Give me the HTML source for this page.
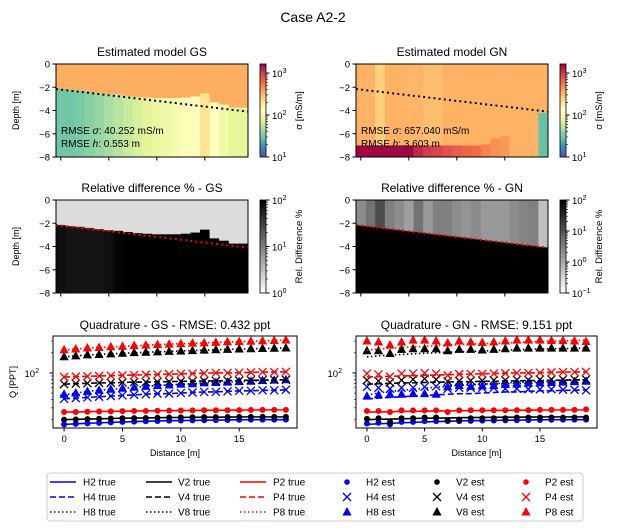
<!DOCTYPE html>
<html><head><meta charset="utf-8"><style>
body{margin:0;background:#fff}
svg{display:block;font-family:"Liberation Sans","DejaVu Sans",sans-serif}
</style></head><body>
<svg id="fig" width="627" height="532" viewBox="0 0 627 532" xmlns="http://www.w3.org/2000/svg">
<defs>
<linearGradient id="spec" x1="0" y1="1" x2="0" y2="0">
<stop offset="0" stop-color="#5e4fa2"/><stop offset="0.1" stop-color="#3288bd"/><stop offset="0.2" stop-color="#66c2a5"/><stop offset="0.3" stop-color="#abdda4"/><stop offset="0.4" stop-color="#e6f598"/><stop offset="0.5" stop-color="#ffffbf"/><stop offset="0.6" stop-color="#fee08b"/><stop offset="0.7" stop-color="#fdae61"/><stop offset="0.8" stop-color="#f46d43"/><stop offset="0.9" stop-color="#d53e4f"/><stop offset="1" stop-color="#9e0142"/>
</linearGradient>
<linearGradient id="grayg" x1="0" y1="1" x2="0" y2="0"><stop offset="0" stop-color="#fff"/><stop offset="1" stop-color="#000"/></linearGradient>
</defs>
<text x="313" y="22" font-size="14" text-anchor="middle">Case A2-2</text>
</svg>
<script>
// ---- data ----
const positions = [0,1,2,3,4,5,6,7,8,9,10,11,12,13,14,15,16,17,18,19];
const trueDepthStart = 2.15, trueDepthEnd = 4.1;
const gsLayerDepth = [2.15,2.25,2.3,2.4,2.5,2.6,2.65,2.75,2.85,2.9,2.95,2.95,2.95,2.9,2.8,2.55,3.3,3.5,3.75,3.75];
const gsTopSigma = [355,355,355,355,355,355,355,355,355,355,355,355,355,355,355,355,355,355,355,355];
const gsBotSigma = [30,30,32,36,40,46,52,60,68,76,85,95,105,120,135,200,130,95,80,78];
const gnLayerDepth = [7,7,7,7,7,7,7,7,7,7,7,7,7,6.9,6.4,6.2,8,8,8,4.2];
const gnTopSigma = [340,340,250,340,340,330,330,300,300,340,340,340,340,340,340,340,340,340,340,340];
const gnBotSigma = [1600,1600,1600,1600,1600,1600,1200,1000,900,800,700,650,600,500,450,420,400,400,400,28];
const gsDiffDark = [0.15,0.2,0.2,0.2,0.2,0.15,0.05,0,0,0,0,0,0,0,0,0,0,0,0,0];
const gnDiffGray = [0.55,0.45,0.3,0.5,0.55,0.62,0.45,0.6,0.5,0.5,0.55,0.58,0.55,0.6,0.6,0.6,0.55,0.52,0.5,0.75];
const trueP8 = [220,228,235,240,245,250,256,260,265,270,274,278,282,286,290,294,298,302,306,310];
const trueV8 = [174,180,185,189,193,197,200,204,207,210,213,216,219,222,225,228,230,232,234,236];
const trueP4 = [87,88,89,90,91,92,93,94,95,96,97,98,99,100,100,101,102,103,103,104];
const trueV4 = [68,69,70,71,71,72,73,73,74,74,75,75,76,76,77,77,78,78,79,79];
const trueH8 = [47,50,53,55,57,59,61,63,65,66,68,69,71,72,73,74,75,77,78,79];
const trueH4 = [41,42,43,44,45,46,47,48,49,49,50,51,52,52,53,54,54,55,55,56];
const trueP2 = [26,26,26.3,26.5,26.6,26.8,27,27,27.2,27.3,27.4,27.5,27.6,27.7,27.7,27.8,27.9,28,28,28];
const trueV2 = [20,20.2,20.4,20.6,20.8,21,21.1,21.2,21.4,21.5,21.6,21.7,21.8,21.8,21.9,22,22,22,22,22];
const trueH2 = [17,17.3,17.6,17.9,18.2,18.5,18.7,18.9,19.1,19.3,19.4,19.5,19.6,19.7,19.8,19.9,20,20,20,20];
const gsEstP8 = [222,228,236,240,246,250,256,261,265,270,274,279,282,286,291,294,298,302,306,311];
const gsEstV8 = [175,180,186,189,193,197,201,204,207,210,213,216,219,222,225,228,230,232,234,236];
const gsEstP4 = [87,88,89,90,91,92,93,94,95,96,97,98,99,100,100,101,102,103,103,104];
const gsEstV4 = [68,69,70,71,71,72,73,73,74,74,75,75,76,76,77,77,78,78,79,79];
const gsEstH8 = [48,50,53,55,57,59,61,63,65,66,68,69,71,72,73,74,75,77,78,79];
const gsEstH4 = [41,42,43,44,45,46,47,48,49,49,50,51,52,52,53,54,54,55,55,56];
const gsEstP2 = [26,26,26.3,26.5,26.6,26.8,27,27,27.2,27.3,27.4,27.5,27.6,27.7,27.7,27.8,27.9,28,28,28];
const gsEstV2 = [20,20.2,20.4,20.6,20.8,21,21.1,21.2,21.4,21.5,21.6,21.7,21.8,21.8,21.9,22,22,22,22,22];
const gsEstH2 = [17,17.3,17.6,17.9,18.2,18.5,18.7,18.9,19.1,19.3,19.4,19.5,19.6,19.7,19.8,19.9,20,20,20,20];
const gnEstP8 = [300,290,262,290,310,310,300,282,300,290,285,290,300,310,310,310,305,305,300,295];
const gnEstV8 = [215,215,195,225,230,230,230,215,225,225,220,225,230,235,235,235,235,235,235,235];
const gnEstP4 = [98,95,88,98,98,100,98,92,96,97,97,98,99,100,100,101,102,103,103,104];
const gnEstV4 = [78,76,72,78,80,82,80,75,76,77,77,78,78,79,79,80,80,80,80,80];
const gnEstH8 = [45,47,48,48,49,49,48,62,65,63,64,65,67,68,70,71,72,73,74,75];
const gnEstH4 = [62,60,58,60,60,62,63,58,60,60,60,60,58,58,57,57,57,56,56,55];
const gnEstP2 = [27,27,26,27.5,27.5,27.5,27.5,26,27.5,27.6,27.6,27.6,27.7,27.8,27.8,28,28,28,28,28.5];
const gnEstV2 = [20.5,21,18.5,21,21,21.5,21.5,19.5,20,21,21,21,21,21.5,21.5,21.5,21.5,21.5,21.5,21.5];
const gnEstH2 = [17.5,18,17,18.5,18.5,19,19,19,19,19.2,19.3,19.4,19.5,19.6,19.7,19.8,19.9,20,20,20];
const depthTicks = [0,-2,-4,-6,-8];
const distTicks = [0,5,10,15];

// ---- helpers ----
const svg = document.getElementById('fig');
const NS = 'http://www.w3.org/2000/svg';
function mk(tag, attrs, parent){const e=document.createElementNS(NS,tag);for(const k in attrs)e.setAttribute(k,attrs[k]);(parent||svg).appendChild(e);return e;}
const specStops=['#5e4fa2','#3288bd','#66c2a5','#abdda4','#e6f598','#ffffbf','#fee08b','#fdae61','#f46d43','#d53e4f','#9e0142'];
function hex(c){return [parseInt(c.substr(1,2),16),parseInt(c.substr(3,2),16),parseInt(c.substr(5,2),16)];}
function spectral(v){let t=(Math.log10(v)-1)/(Math.log10(1640)-1);t=Math.max(0,Math.min(1,t));const s=t*10,i=Math.min(9,Math.floor(s)),f=s-i;const a=hex(specStops[i]),b=hex(specStops[i+1]);return 'rgb('+a.map((x,k)=>Math.round(x+(b[k]-x)*f)).join(',')+')';}
function label(x,y,txt,opts,name){const t=mk('text',Object.assign({x:x,y:y,'font-size':9.5,'text-anchor':'middle'},opts||{}));t.textContent=txt;return t;}
function sup(x,y,base,exp,name,anchor){const t=mk('text',{x:x,y:y,'font-size':9.5,'text-anchor':anchor||'start'});t.appendChild(document.createTextNode(base));const s=mk('tspan',{dy:-4,'font-size':7},t);s.textContent=exp;return t;}

function modelPanel(L,T,W,H,depth,topS,botS,title,rmse1,rmse2,pre){
  const g=mk('g',{});
  const sx=v=>L+(v+0.5)/20*W, sy=d=>T+(-d)/8*H;
  label(L+W/2,T-8,title,{'font-size':12},pre+'-title');
  positions.forEach((p,i)=>{
    const r1=mk('rect',{x:sx(p-0.5),y:T,width:W/20+0.3,height:sy(-depth[i])-T,fill:spectral(topS[i])},g);
    
    if(depth[i]<8){const r2=mk('rect',{x:sx(p-0.5),y:sy(-depth[i]),width:W/20+0.3,height:T+H-sy(-depth[i]),fill:spectral(botS[i])},g);
    }
  });
  const tl=mk('line',{x1:sx(-0.5),y1:sy(-trueDepthStart),x2:sx(19.5),y2:sy(-trueDepthEnd),stroke:'#000','stroke-width':2,'stroke-dasharray':'2 3.2'},g);
  
  const t1=mk('text',{x:L+5,y:T+H-23,'font-size':10},g);
  t1.innerHTML='RMSE <tspan font-style="italic">σ</tspan>: '+rmse1;
  const t2=mk('text',{x:L+5,y:T+H-10,'font-size':10},g);
  t2.innerHTML='RMSE <tspan font-style="italic">h</tspan>: '+rmse2;
  depthAxes(L,T,W,H,pre);
}
function depthAxes(L,T,W,H,pre){
  const sx=v=>L+(v+0.5)/20*W, sy=d=>T+(-d)/8*H;
  const fr=mk('rect',{x:L,y:T,width:W,height:H,fill:'none',stroke:'#000','stroke-width':1});
  depthTicks.forEach(d=>{mk('line',{x1:L-3.5,y1:sy(d),x2:L,y2:sy(d),stroke:'#000'});label(L-6,sy(d)+3.5,d===0?'0':'−'+(-d),{'text-anchor':'end'},'depth-tick-label');});
  distTicks.forEach(v=>mk('line',{x1:sx(v),y1:T+H,x2:sx(v),y2:T+H+3.5,stroke:'#000'}));
  if(L<100)label(19,T+H/2,'Depth [m]',{'font-size':9,transform:'rotate(-90 19 '+(T+H/2)+')'},'depth-axis-title');
}
function colorbar(x,T,H,fill,decMin,decMax,titleTxt,pre){
  const r=mk('rect',{x:x,y:T,width:6,height:H,fill:fill,stroke:'#000','stroke-width':0.8});
  const top=(fill==='url(#spec)')?Math.log10(1640):decMax;
  const cy=l=>T+H-(l-decMin)/(top-decMin)*H;
  for(let d=decMin;d<=decMax;d++){mk('line',{x1:x+6,y1:cy(d),x2:x+9.5,y2:cy(d),stroke:'#000'});sup(x+12,cy(d)+4,'10',d<0?'−'+(-d):String(d),'colorbar-tick-label');
    for(let m=2;m<10;m++){const l=d+Math.log10(m);if(l<=top)mk('line',{x1:x+6,y1:cy(l),x2:x+8,y2:cy(l),stroke:'#000','stroke-width':0.6});}}
  const tx=x+42;label(tx,T+H/2,titleTxt,{'font-size':9.5,transform:'rotate(-90 '+tx+' '+(T+H/2)+')'},pre+'-colorbar-title');
}
modelPanel(56,64,192,93,gsLayerDepth,gsTopSigma,gsBotSigma,'Estimated model GS','40.252 mS/m','0.553 m','model-gs');
colorbar(260,64,93,'url(#spec)',1,3,'σ [mS/m]','model-gs');
modelPanel(356,64,192,93,gnLayerDepth,gnTopSigma,gnBotSigma,'Estimated model GN','657.040 mS/m','3.603 m','model-gn');
colorbar(560,64,93,'url(#spec)',1,3,'σ [mS/m]','model-gn');

// relative difference panels
function diffPanel(L,T,W,H,pre,title,gs){
  const sx=v=>L+(v+0.5)/20*W, sy=d=>T+(-d)/8*H;
  label(L+W/2,T-8,title,{'font-size':12},pre+'-title');
  positions.forEach((p,i)=>{
    const g=gs?'#dcdcdc':'rgb('+Array(3).fill(Math.round(255*gnDiffGray[i])).join(',')+')';
    const d=gs?gsLayerDepth[i]:8;
    const r=mk('rect',{x:sx(p-0.5),y:T,width:W/20+0.3,height:sy(-d)-T,fill:g});
    if(gs){const c=Math.round(255*gsDiffDark[i]);const r2=mk('rect',{x:sx(p-0.5),y:sy(-d),width:W/20+0.3,height:T+H-sy(-d),fill:'rgb('+c+','+c+','+c+')'});}
  });
  const poly=mk('polygon',{points:[sx(-0.5)+','+sy(-trueDepthStart),sx(19.5)+','+sy(-trueDepthEnd),sx(19.5)+','+(T+H),sx(-0.5)+','+(T+H)].join(' '),fill:gs?'rgba(0,0,0,0.6)':'#000'});
  
  const tl=mk('line',{x1:sx(-0.5),y1:sy(-trueDepthStart),x2:sx(19.5),y2:sy(-trueDepthEnd),stroke:'#f00','stroke-width':2,'stroke-dasharray':'2 3.2'});
  
  depthAxes(L,T,W,H,pre);
}
diffPanel(56,200,192,93,'diff-gs','Relative difference % - GS',true);
colorbar(260,200,93,'url(#grayg)',0,2,'Rel. Difference %','diff-gs');
diffPanel(356,200,192,93,'diff-gn','Relative difference % - GN',false);
colorbar(560,200,93,'url(#grayg)',-1,2,'Rel. Difference %','diff-gn');

// quadrature panels
function quadPanel(L,W,title,pre,est){
  const T=336,H=92;
  const sx=v=>L+(v+0.95)/20.9*W;
  const yTop=Math.log10(357),yBot=Math.log10(15);
  const sy=v=>T+(yTop-Math.log10(v))/(yTop-yBot)*H;
  label(L+W/2,T-7,title,{'font-size':12},pre+'-title');
  const clip=mk('clipPath',{id:pre+'clip'});mk('rect',{x:L,y:T,width:W,height:H},clip);
  const g=mk('g',{'clip-path':'url(#'+pre+'clip)'});
  const series=[
    ['H2','#0000ff','',trueH2,est.H2,'o'],['H4','#0000ff','6 3',trueH4,est.H4,'x'],['H8','#0000ff','1.5 2.5',trueH8,est.H8,'^'],
    ['V2','#000','',trueV2,est.V2,'o'],['V4','#000','6 3',trueV4,est.V4,'x'],['V8','#000','1.5 2.5',trueV8,est.V8,'^'],
    ['P2','#ff0000','',trueP2,est.P2,'o'],['P4','#ff0000','6 3',trueP4,est.P4,'x'],['P8','#ff0000','1.5 2.5',trueP8,est.P8,'^']];
  series.forEach(s=>{
    const pl=mk('polyline',{points:positions.map((p,i)=>sx(p)+','+sy(s[3][i])).join(' '),fill:'none',stroke:s[1],'stroke-width':1.6,'stroke-dasharray':s[2]},g);
    
    positions.forEach((p,i)=>{const x=sx(p),y=sy(s[4][i]);let m;
      if(s[5]==='o')m=mk('circle',{cx:x,cy:y,r:3,fill:s[1]},g);
      else if(s[5]==='x')m=mk('path',{d:`M${x-4} ${y-4}L${x+4} ${y+4}M${x-4} ${y+4}L${x+4} ${y-4}`,stroke:s[1],'stroke-width':1.3,fill:'none'},g);
      else m=mk('path',{d:`M${x} ${y-5}L${x+4.6} ${y+3.5}L${x-4.6} ${y+3.5}Z`,fill:s[1]},g);
      });
  });
  const fr=mk('rect',{x:L,y:T,width:W,height:H,fill:'none',stroke:'#000'});
  distTicks.forEach(v=>{mk('line',{x1:sx(v),y1:T+H,x2:sx(v),y2:T+H+3.5,stroke:'#000'});label(sx(v),T+H+14,String(v),{},'distance-tick-label');});
  label(L+W/2,T+H+28,'Distance [m]',{'font-size':9},pre+'-x-axis-title');
  [20,30,40,50,60,70,80,90,200,300].forEach(v=>mk('line',{x1:L-2,y1:sy(v),x2:L,y2:sy(v),stroke:'#000','stroke-width':0.6}));
  mk('line',{x1:L-3.5,y1:sy(100),x2:L,y2:sy(100),stroke:'#000'});
  sup(L-14,sy(100)+4,'10','2','q-tick-label','end');
  if(L<100)label(16,T+H/2,'Q [PPT]',{'font-size':9,transform:'rotate(-90 16 '+(T+H/2)+')'},'q-axis-title');
}
quadPanel(53,244,'Quadrature - GS - RMSE: 0.432 ppt','quad-gs',{H2:gsEstH2,H4:gsEstH4,H8:gsEstH8,V2:gsEstV2,V4:gsEstV4,V8:gsEstV8,P2:gsEstP2,P4:gsEstP4,P8:gsEstP8});
quadPanel(356,241,'Quadrature - GN - RMSE: 9.151 ppt','quad-gn',{H2:gnEstH2,H4:gnEstH4,H8:gnEstH8,V2:gnEstV2,V4:gnEstV4,V8:gnEstV8,P2:gnEstP2,P4:gnEstP4,P8:gnEstP8});

// legend
const lg=mk('g',{});
const lb=mk('rect',{x:47,y:473,width:536,height:48,rx:3,fill:'#fff',stroke:'#ccc'},lg);
const cols=[['H','#0000ff',50,83],['V','#000',146,178],['P','#ff0000',240,273]];
const rows=[['2','',482],['4','6 3',497],['8','1.5 2.5',512]];
cols.forEach(c=>rows.forEach(r=>{
  const l=mk('line',{x1:c[2],y1:r[2],x2:c[2]+26,y2:r[2],stroke:c[1],'stroke-width':1.6,'stroke-dasharray':r[1]},lg);
  label(c[3],r[2]+3.5,c[0]+r[0]+' true',{'text-anchor':'start','font-size':10},'legend-entry');
}));
const ecols=[['H','#0000ff',347,366],['V','#000',437,456],['P','#ff0000',526,545]];
ecols.forEach(c=>rows.forEach((r,k)=>{
  const x=c[2],y=r[2];let m;
  if(k===0)m=mk('circle',{cx:x,cy:y,r:2.8,fill:c[1]},lg);
  else if(k===1)m=mk('path',{d:`M${x-4} ${y-4}L${x+4} ${y+4}M${x-4} ${y+4}L${x+4} ${y-4}`,stroke:c[1],'stroke-width':1.3},lg);
  else m=mk('path',{d:`M${x} ${y-5}L${x+4.6} ${y+3.5}L${x-4.6} ${y+3.5}Z`,fill:c[1]},lg);
  
  label(c[3],y+3.5,c[0]+r[0]+' est',{'text-anchor':'start','font-size':10},'legend-entry');
}));
</script>
</body></html>
